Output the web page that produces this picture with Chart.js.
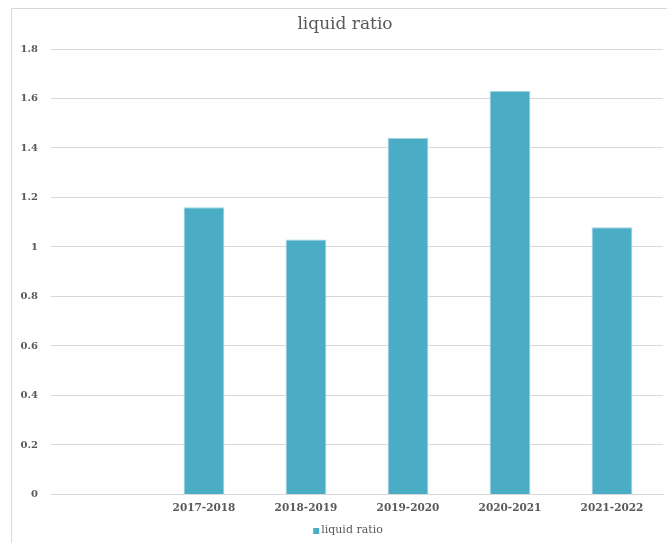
<!DOCTYPE html>
<html>
<head>
<meta charset="utf-8">
<script src="https://cdn.jsdelivr.net/npm/chart.js@4.4.1/dist/chart.umd.min.js"></script>
<style>
  html, body { margin: 0; padding: 0; background: #ffffff; overflow: hidden; }
  #wrap { position: relative; width: 667px; height: 543px; }
  #frame { position: absolute; left: 11px; top: 8px; width: 720px; height: 600px;
           border: 1px solid #D9D9D9; box-sizing: border-box; }
  #c { position: absolute; left: 0; top: 0; }
</style>
</head>
<body>
<div id="wrap">
  <div id="frame"></div>
  <canvas id="c" width="667" height="543"></canvas>
</div>
<script>
// Liquid ratio by financial year
const categories = ['', '2017-2018', '2018-2019', '2019-2020', '2020-2021', '2021-2022'];
const liquidRatio = [null, 1.16, 1.03, 1.44, 1.63, 1.08];
const seriesName = 'liquid ratio';
const chartTitle = 'liquid ratio';

const serif = "'DejaVu Serif', 'Liberation Serif', serif";
const textColor = '#595959';
const gridColor = '#D9D9D9';
const barColor = '#4BACC6';

// Title and legend sit slightly right of centre within the chart frame,
// so they are painted here instead of by the built-in plugins.
const headerAndKey = {
  id: 'headerAndKey',
  afterDraw(chart) {
    const ctx = chart.ctx;
    ctx.save();
    ctx.fillStyle = textColor;
    ctx.textBaseline = 'middle';
    ctx.textAlign = 'center';
    ctx.font = `17px ${serif}`;
    ctx.fillText(chartTitle, 345, 25);

    const ds = chart.data.datasets[0];
    ctx.font = `11px ${serif}`;
    const tw = ctx.measureText(ds.label).width;
    const boxW = 6, gap = 2;
    const x0 = 348 - (boxW + gap + tw) / 2;
    ctx.fillStyle = ds.backgroundColor;
    ctx.fillRect(x0, 528, boxW, boxW);
    ctx.fillStyle = textColor;
    ctx.textAlign = 'left';
    ctx.fillText(ds.label, x0 + boxW + gap, 530);
    ctx.restore();
  }
};

new Chart(document.getElementById('c'), {
  type: 'bar',
  data: {
    labels: categories,
    datasets: [{
      label: seriesName,
      data: liquidRatio,
      backgroundColor: barColor,
      borderColor: '#9ED3E2',
      borderWidth: 1,
      categoryPercentage: 1.0,
      barPercentage: 0.4
    }]
  },
  options: {
    responsive: false,
    animation: false,
    layout: { padding: { left: 0, right: 4, top: 49, bottom: 20 } },
    plugins: {
      title: { display: false },
      legend: { display: false },
      tooltip: { enabled: false }
    },
    scales: {
      x: {
        grid: { display: false, drawTicks: false },
        border: { display: true, color: gridColor },
        ticks: {
          color: textColor,
          font: { family: serif, size: 10.5, weight: 'bold' },
          padding: 8,
          maxRotation: 0
        }
      },
      y: {
        min: 0,
        max: 1.8,
        afterFit: (s) => { s.width = 51; },
        grid: { color: gridColor, drawTicks: false },
        border: { display: false },
        ticks: {
          stepSize: 0.2,
          color: textColor,
          font: { family: serif, size: 10, weight: 'bold' },
          padding: 13,
          callback: (v) => String(Number(v.toFixed(1)))
        }
      }
    }
  },
  plugins: [headerAndKey]
});
</script>
</body>
</html>
